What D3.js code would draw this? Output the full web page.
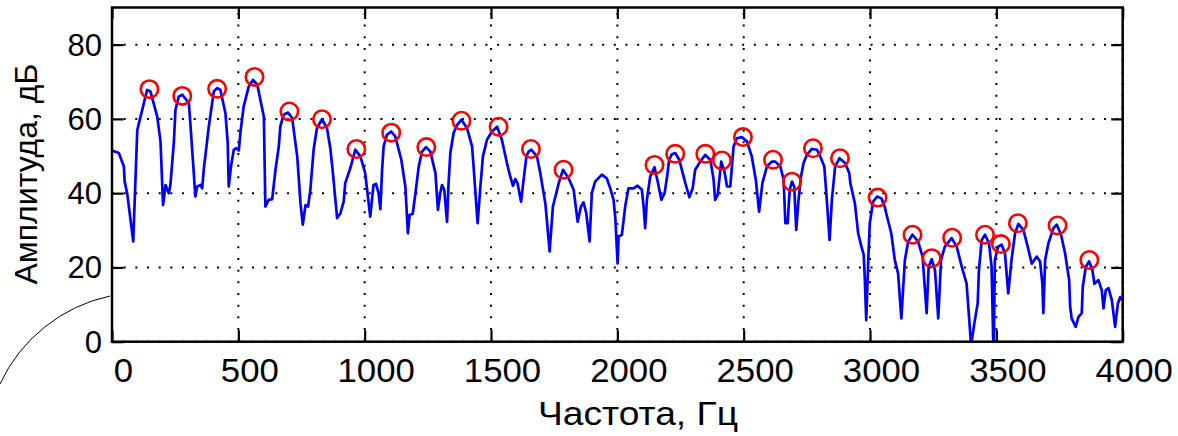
<!DOCTYPE html>
<html>
<head>
<meta charset="utf-8">
<script src="https://cdn.jsdelivr.net/npm/d3@7"></script>
<style>
  body { margin: 0; background: #fff; }
  text { font-family: "Liberation Sans", Arial, sans-serif; fill: #000; }
</style>
</head>
<body>
<svg width="1178" height="436"></svg>
<script>
// spectrum trace (Hz, dB)
const freqs = [0,27,47,50,60,84,100,113,139,152,179,192,202,212,225,231,245,251,264,278,304,310,330,337,350,357,363,383,403,416,429,449,458,462,471,482,492,502,508,521,541,558,575,601,607,620,634,647,660,666,679,697,713,733,746,755,766,776,785,798,811,831,851,864,873,891,904,917,923,943,963,983,1002,1022,1035,1045,1055,1062,1069,1075,1088,1105,1121,1145,1161,1171,1178,1190,1201,1214,1227,1243,1260,1280,1290,1299,1306,1315,1326,1332,1339,1352,1366,1383,1405,1425,1431,1447,1458,1468,1484,1504,1524,1543,1563,1576,1587,1596,1605,1619,1629,1640,1649,1659,1682,1695,1715,1732,1745,1768,1785,1807,1827,1843,1856,1866,1877,1890,1899,1912,1939,1958,1972,1985,1992,2001,2005,2018,2031,2044,2064,2080,2097,2104,2110,2117,2130,2147,2161,2174,2187,2196,2205,2216,2229,2245,2269,2285,2298,2308,2328,2348,2368,2381,2387,2397,2411,2424,2434,2447,2460,2473,2493,2513,2532,2548,2561,2574,2592,2611,2625,2645,2658,2665,2674,2682,2691,2700,2708,2717,2727,2737,2750,2770,2790,2803,2819,2827,2840,2849,2862,2879,2901,2918,2922,2940,2953,2966,2975,2979,2985,2993,2999,3012,3028,3045,3058,3064,3084,3098,3111,3124,3138,3151,3168,3190,3208,3224,3232,3244,3257,3270,3281,3296,3323,3343,3363,3382,3389,3400,3413,3426,3431,3442,3455,3471,3481,3488,3490,3494,3507,3521,3534,3547,3560,3574,3587,3607,3624,3640,3650,3660,3673,3682,3686,3693,3706,3726,3739,3756,3772,3788,3792,3798,3814,3825,3838,3842,3854,3867,3880,3888,3904,3917,3924,3933,3944,3957,3970,3981,3990,3997];
const amps = [51.5,50.8,47.2,43.1,40,27,57,60.6,67.8,67.4,60.6,53.9,36.8,42.2,40,42.2,53.9,62.4,66,66.5,64.3,58.9,39.1,41.8,42.2,41.3,46.3,57.9,67.4,68.3,67.8,61.5,53.5,41.8,47.2,51.7,52.1,51.5,56.2,63.3,68.7,70.5,69.2,60.6,36.4,38.2,38.4,46.3,52.5,57.9,61.1,61.7,60.2,49.9,37.3,31.5,36.8,36.4,40.9,51.7,57.5,59.9,57.5,52.1,46.3,33.3,34.6,37.7,42.7,46.7,51.7,49.9,45.4,33.7,42.2,42.5,40,35.7,46.3,52.6,55.7,56.6,55.3,49,41.8,29.2,34.2,34.4,40,47.2,51.2,52.4,51.2,45.4,35.5,40,42.2,40.9,32.3,42.7,50.8,56.2,58.4,59.8,57.5,52.6,47.2,31.9,41.8,49.9,54.4,56.6,57.9,54.4,48.1,44.5,42,43.8,42.7,37.7,43.6,49.9,51.2,51.7,49.9,45.4,37.3,24.3,36.4,42.7,46.3,44,40.9,32.3,36.4,37.5,34.6,27,40,43.1,45,44,41.3,38.2,33.3,21.1,28.3,28.8,36.4,41.3,41.3,42,40.9,36.4,30.6,38.2,44.5,47,42.7,38.2,40,44,49,50.5,50.8,49,42.7,38.9,41.3,46.3,48.5,50.3,49,43.6,38.2,39.5,48.5,45.8,41.8,41.8,52.6,54.8,55.1,53.9,49.9,43.6,35,42.7,47.2,48.5,48.5,47.2,43.6,31.9,31.9,40.9,43.1,41.8,30.1,38.2,44.5,48.1,50.3,51.9,51.7,49.9,47.2,40,27.4,38.2,47.2,49.4,48.1,45.4,42.7,37.3,29.2,25.6,23.4,17.5,5.8,22,31.9,37.7,39.1,38.6,36.4,34.6,29.2,22,18.4,6.3,22,27,28.8,27,22.9,7.7,20.2,22.2,19.3,6.3,22,25.6,27.9,25.6,20.2,15.7,9.4,-1,5,10.3,19.3,27.4,28.8,26.5,20.2,-1,-1,22,25.6,26.1,23.8,13,22,29.2,31.7,30.1,25.6,21,22,22.9,21.6,15.7,7.7,22,26.5,30.6,31.5,28.8,23.8,16.6,9.4,6.3,4,6.7,7.7,14.8,20.2,21.6,19.3,15.6,16.6,13.9,9,13.9,14.4,11.2,4,10.3,12,11.2];

// detected peaks
const peakFreqs = [148,278,416,564,702,831,967,1105,1244,1383,1530,1658,1787,2147,2229,2348,2414,2497,2616,2691,2774,2881,3030,3168,3244,3325,3455,3518,3585,3742,3868];
const peakAmps = [68,66.2,68.1,71.3,62,59.9,51.9,56.3,52.4,59.5,57.9,51.9,46.3,47.6,50.6,50.6,48.8,55.1,49,43.1,52.1,49.4,38.8,28.8,22.5,28,28.8,26.3,31.9,31.3,22];

const xTicks = [0,500,1000,1500,2000,2500,3000,3500,4000];
const yTicks = [0,20,40,60,80];
const xTitle = 'Частота, Гц';
const yTitle = 'Амплитуда, дБ';

const svg = d3.select('svg');
const L = 112, R = 1122.7, T = 7.5, B = 341.7;
const x = d3.scaleLinear().domain([0,4000]).range([L,R]);
const y = d3.scaleLinear().domain([0,90]).range([B,T]);

svg.append('defs').append('clipPath').attr('id','clip')
   .append('rect').attr('x',L).attr('y',T).attr('width',R-L).attr('height',B-T);

// dotted grid
const grid = svg.append('g').attr('stroke','#000').attr('stroke-width',2).attr('stroke-dasharray','2,9.67');
grid.selectAll('.gx').data(xTicks).enter().append('line')
    .attr('x1',d=>x(d)).attr('x2',d=>x(d)).attr('y1',B).attr('y2',T);
grid.selectAll('.gy').data(yTicks).enter().append('line')
    .attr('y1',d=>y(d)).attr('y2',d=>y(d)).attr('x1',L).attr('x2',R);

// axes with inward ticks
const tk = 11.5;
const gBottom = svg.append('g').attr('transform','translate(0,'+B+')')
   .call(d3.axisBottom(x).tickValues(xTicks).tickSize(-tk).tickPadding(0).tickFormat(d3.format('d')));
const gTop = svg.append('g').attr('transform','translate(0,'+T+')')
   .call(d3.axisTop(x).tickValues(xTicks).tickSize(-tk).tickFormat(''));
const gLeft = svg.append('g').attr('transform','translate('+L+',0)')
   .call(d3.axisLeft(y).tickValues(yTicks).tickSize(-tk).tickFormat(d3.format('d')));
const gRight = svg.append('g').attr('transform','translate('+R+',0)')
   .call(d3.axisRight(y).tickValues(yTicks).tickSize(-tk).tickFormat(''));
[gBottom,gTop,gLeft,gRight].forEach(g=>{
  g.select('.domain').remove();
  g.selectAll('.tick line').attr('stroke','#000').attr('stroke-width',2.2);
});
gBottom.selectAll('.tick text')
   .attr('y',null).attr('dy',null)
   .attr('transform','translate(11,40) scale(1.07,1)')
   .style('font-size','32.5px').style('font-family','"Liberation Sans", Arial, sans-serif')
   .attr('text-anchor','middle');
gLeft.selectAll('.tick text')
   .attr('x',-10).attr('dy','0.34em')
   .style('font-size','31px').style('font-family','"Liberation Sans", Arial, sans-serif')
   .attr('text-anchor','end');

// spectrum line
const line = d3.line().x((d,i)=>x(freqs[i])).y(d=>y(d));
svg.append('path').datum(amps)
   .attr('clip-path','url(#clip)')
   .attr('d',line)
   .attr('fill','none').attr('stroke','#0000ff').attr('stroke-width',2.7)
   .attr('stroke-linejoin','round');

// peak markers
svg.append('g').selectAll('circle').data(peakFreqs).enter().append('circle')
   .attr('cx',d=>x(d)).attr('cy',(d,i)=>y(peakAmps[i]))
   .attr('r',8.7).attr('fill','none').attr('stroke','#ff0000').attr('stroke-width',2.6);

// frame
svg.append('rect').attr('x',L).attr('y',T).attr('width',R-L).attr('height',B-T)
   .attr('fill','none').attr('stroke','#000').attr('stroke-width',2.5);

// stray annotation arc at lower left
svg.append('path').attr('d','M0,384 A158,158 0 0,1 '+(L-2)+',296')
   .attr('fill','none').attr('stroke','#000').attr('stroke-width',1);

// axis titles
svg.append('text').attr('x',638).attr('y',425).attr('text-anchor','middle')
   .attr('textLength',200).attr('lengthAdjust','spacingAndGlyphs')
   .style('font-size','33px').text(xTitle);
svg.append('text').attr('transform','translate(37,174) rotate(-90)').attr('text-anchor','middle')
   .style('font-size','32px').text(yTitle);
</script>
</body>
</html>
